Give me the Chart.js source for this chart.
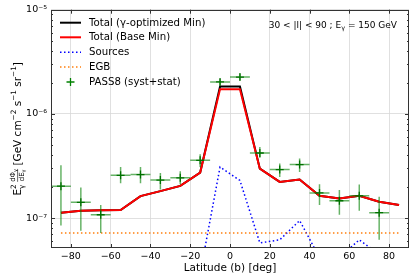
<!DOCTYPE html>
<html>
<head>
<meta charset="utf-8">
<script src="https://cdn.jsdelivr.net/npm/chart.js@4/dist/chart.umd.min.js"></script>
<style>
html,body{margin:0;padding:0;background:#fff;}
#wrap{width:417px;height:278px;}
</style>
</head>
<body>
<div id="wrap"><canvas id="c" width="417" height="278"></canvas></div>
<script>
// ---- data ----
const latBins = [-85,-75,-65,-55,-45,-35,-25,-15,-5,5,15,25,35,45,55,65,75];
const pass8   = [2.03e-7,1.42e-7,1.08e-7,2.58e-7,2.62e-7,2.32e-7,2.44e-7,3.59e-7,2.03e-6,2.26e-6,4.22e-7,2.93e-7,3.27e-7,1.75e-7,1.47e-7,1.64e-7,1.13e-7];
const pass8Hi = [3.22e-7,1.97e-7,1.34e-7,3.10e-7,3.10e-7,2.72e-7,2.82e-7,4.10e-7,2.17e-6,2.42e-6,4.81e-7,3.34e-7,3.73e-7,2.12e-7,1.86e-7,2.11e-7,1.61e-7];
const pass8Lo = [8.5e-8,7.6e-8,7.2e-8,2.17e-7,2.17e-7,1.89e-7,2.12e-7,3.10e-7,1.90e-6,2.12e-6,3.81e-7,2.49e-7,2.78e-7,1.34e-7,1.08e-7,1.18e-7,6.2e-8];
const binHalfWidth = 5;

const modelLat = [-85,-75,-65,-55,-45,-35,-25,-15,-5,5,15,25,35,45,55,65,75,85];
const totalGammaOpt = [1.13e-7,1.18e-7,1.19e-7,1.20e-7,1.63e-7,1.82e-7,2.04e-7,2.74e-7,1.83e-6,1.83e-6,2.99e-7,2.23e-7,2.35e-7,1.64e-7,1.55e-7,1.64e-7,1.44e-7,1.34e-7];
const totalBase     = [1.13e-7,1.18e-7,1.19e-7,1.20e-7,1.63e-7,1.82e-7,2.04e-7,2.74e-7,1.73e-6,1.73e-6,2.99e-7,2.23e-7,2.35e-7,1.64e-7,1.55e-7,1.64e-7,1.44e-7,1.34e-7];
const sources       = [1.0e-8,1.2e-8,1.0e-8,1.1e-8,1.3e-8,1.5e-8,1.8e-8,2.95e-8,3.1e-7,2.3e-7,5.8e-8,6.2e-8,9.5e-8,4.2e-8,4.2e-8,6.2e-8,4.5e-8,1.5e-8];
const egbLat = [-85,85];
const egb    = [7.2e-8,7.2e-8];

const xTicks = [-80,-60,-40,-20,0,20,40,60,80];
const yTicks = [1e-7,1e-6,1e-5];
const yTickLabels = ['10\u207B\u2077','10\u207B\u2076','10\u207B\u2075'];
const xMin = -90, xMax = 90, yMin = 5.18e-8, yMax = 1e-5;

const legendItems = [
  {label:'Total (\u03B3-optimized Min)', kind:'line', color:'#000000'},
  {label:'Total (Base Min)', kind:'line', color:'#ff0000'},
  {label:'Sources', kind:'dot', color:'#0000ff'},
  {label:'EGB', kind:'dot', color:'#ff7f0e'},
  {label:'PASS8 (syst+stat)', kind:'plus', color:'#008000'}
];

const pts = (xs, ys) => xs.map((x,i)=>({x:x, y:ys[i]}));
const FONT = 'DejaVu Sans';

function drawRich(ctx, segs, x, y) {
  let cx = x;
  for (const s of segs) {
    ctx.font = s.size + 'px "' + FONT + '"';
    ctx.fillText(s.t, cx, y + (s.dy||0));
    cx += ctx.measureText(s.t).width;
  }
  return cx - x;
}
function richWidth(ctx, segs) {
  let w = 0;
  for (const s of segs) { ctx.font = s.size + 'px "' + FONT + '"'; w += ctx.measureText(s.t).width; }
  return w;
}

const overlay = {
  id: 'overlay',
  afterDatasetsDraw(chart) {
    const ctx = chart.ctx, xs = chart.scales.x, ys = chart.scales.y, ca = chart.chartArea;
    ctx.save();
    ctx.beginPath(); ctx.rect(ca.left, ca.top, ca.right-ca.left, ca.bottom-ca.top); ctx.clip();
    for (let i=0;i<latBins.length;i++) {
      const px = xs.getPixelForValue(latBins[i]);
      const py = ys.getPixelForValue(pass8[i]);
      ctx.strokeStyle = 'rgba(0,128,0,0.6)'; ctx.lineWidth = 1.5;
      ctx.beginPath();
      ctx.moveTo(xs.getPixelForValue(latBins[i]-binHalfWidth), py);
      ctx.lineTo(xs.getPixelForValue(latBins[i]+binHalfWidth), py);
      ctx.moveTo(px, ys.getPixelForValue(pass8Hi[i]));
      ctx.lineTo(px, ys.getPixelForValue(pass8Lo[i]));
      ctx.stroke();
      ctx.strokeStyle = '#007000'; ctx.lineWidth = 1.3;
      ctx.beginPath();
      ctx.moveTo(px-4, py); ctx.lineTo(px+4, py);
      ctx.moveTo(px, py-4); ctx.lineTo(px, py+4);
      ctx.stroke();
    }
    ctx.restore();
  },
  afterDraw(chart) {
    const ctx = chart.ctx, xs = chart.scales.x, ys = chart.scales.y, ca = chart.chartArea;
    ctx.save();
    ctx.strokeStyle = '#333'; ctx.lineWidth = 1;
    ctx.strokeRect(Math.round(ca.left)+0.5, Math.round(ca.top)+0.5, Math.round(ca.right-ca.left)-1, Math.round(ca.bottom-ca.top)-1);
    ctx.beginPath();
    for (const v of xTicks) {
      const px = Math.round(xs.getPixelForValue(v))+0.5;
      ctx.moveTo(px, ca.bottom); ctx.lineTo(px, ca.bottom-4);
      ctx.moveTo(px, ca.top); ctx.lineTo(px, ca.top+4);
    }
    for (let d=-8; d<=-5; d++) {
      for (let m=1; m<=9; m++) {
        const v = m*Math.pow(10,d);
        if (v < yMin*0.999 || v > yMax*1.001) continue;
        const py = Math.round(ys.getPixelForValue(v))+0.5;
        const len = (m===1)?4:2;
        ctx.moveTo(ca.left, py); ctx.lineTo(ca.left+len, py);
        ctx.moveTo(ca.right, py); ctx.lineTo(ca.right-len, py);
      }
    }
    ctx.stroke();

    ctx.fillStyle = '#000'; ctx.textBaseline = 'middle'; ctx.textAlign = 'left';
    const rowY = [22.7,37.3,52.3,67,82];
    legendItems.forEach((it, i) => {
      const y = rowY[i];
      ctx.strokeStyle = it.color;
      if (it.kind === 'line') {
        ctx.lineWidth = 2; ctx.setLineDash([]);
        ctx.beginPath(); ctx.moveTo(60,y); ctx.lineTo(81,y); ctx.stroke();
      } else if (it.kind === 'dot') {
        ctx.lineWidth = 1.5; ctx.setLineDash([1.5,2.5]);
        ctx.beginPath(); ctx.moveTo(60,y); ctx.lineTo(81,y); ctx.stroke();
        ctx.setLineDash([]);
      } else {
        ctx.lineWidth = 1.3;
        ctx.beginPath(); ctx.moveTo(66.5,y); ctx.lineTo(74.5,y); ctx.moveTo(70.5,y-4); ctx.lineTo(70.5,y+4); ctx.stroke();
      }
      ctx.font = '10.2px "' + FONT + '"';
      ctx.fillText(it.label, 89, y+0.5);
    });

    ctx.textBaseline = 'alphabetic';
    const ann = [{t:'30 < |l| < 90 ; E',size:9},{t:'\u03B3',size:6.5,dy:2},{t:' = 150 GeV',size:9}];
    const aw = richWidth(ctx, ann);
    drawRich(ctx, ann, 397 - aw, 28.3);

    ctx.font = '10.5px "' + FONT + '"'; ctx.textAlign = 'center';
    ctx.fillText('Latitude (b) [deg]', (ca.left+ca.right)/2, 271);

    ctx.textAlign = 'left';
    const pre = [{t:'E',size:10.5},{t:'2',size:7.3,dy:-4.8}];
    const sub = {t:'\u03B3',size:7.3,dy:2.6};
    const post = [{t:' [GeV cm',size:10.5},{t:'\u22122',size:7.3,dy:-4.8},{t:' s',size:10.5},{t:'\u22121',size:7.3,dy:-4.8},{t:' sr',size:10.5},{t:'\u22121',size:7.3,dy:-4.8},{t:']',size:10.5}];
    const num = [{t:'d\u03A6',size:7},{t:'\u03B3',size:5,dy:1.5}];
    const den = [{t:'dE',size:7},{t:'\u03B3',size:5,dy:1.5}];
    const wE = richWidth(ctx,[pre[0]]);
    const w2 = richWidth(ctx,[pre[1]]);
    const wSub = richWidth(ctx,[sub]);
    const wPre = wE + Math.max(w2,wSub);
    const wFrac = Math.max(richWidth(ctx,num), richWidth(ctx,den));
    const gap = 2.5;
    const wPost = richWidth(ctx, post);
    const total = wPre + gap + wFrac + wPost;
    ctx.translate(21, (ca.top+ca.bottom)/2);
    ctx.rotate(-Math.PI/2);
    let x0 = -total/2;
    drawRich(ctx,[pre[0]], x0, 0);
    drawRich(ctx,[pre[1]], x0+wE, 0);
    drawRich(ctx,[sub], x0+wE, 0);
    let fx = x0 + wPre + gap;
    const nw = richWidth(ctx,num), dw = richWidth(ctx,den);
    drawRich(ctx, num, fx + (wFrac-nw)/2, -5.8);
    drawRich(ctx, den, fx + (wFrac-dw)/2, 2.8);
    ctx.lineWidth = 0.6; ctx.strokeStyle = '#000';
    ctx.beginPath(); ctx.moveTo(fx, -3.4); ctx.lineTo(fx+wFrac, -3.4); ctx.stroke();
    drawRich(ctx, post, fx + wFrac, 0);
    ctx.restore();
  }
};

const chart = new Chart(document.getElementById('c'), {
  type: 'scatter',
  data: {
    datasets: [
      {label:'Total (\u03B3-optimized Min)', data: pts(modelLat,totalGammaOpt), showLine:true, borderColor:'#000000', borderWidth:2, pointRadius:0, order:5},
      {label:'Total (Base Min)', data: pts(modelLat,totalBase), showLine:true, borderColor:'#ff0000', borderWidth:2, pointRadius:0, order:4},
      {label:'Sources', data: pts(modelLat,sources), showLine:true, borderColor:'#0000ff', borderWidth:1.5, borderDash:[1.5,2.5], pointRadius:0, order:3},
      {label:'EGB', data: pts(egbLat,egb), showLine:true, borderColor:'#ff7f0e', borderWidth:1.5, borderDash:[1.5,2.5], pointRadius:0, order:2}
    ]
  },
  options: {
    responsive:false, animation:false, devicePixelRatio:1,
    layout:{padding:{left:0,right:8,top:8,bottom:0}},
    plugins:{legend:{display:false}, tooltip:{enabled:false}},
    scales:{
      x:{type:'linear', min:xMin, max:xMax,
        afterBuildTicks(s){ s.ticks = xTicks.map(v=>({value:v})); },
        afterFit(s){ s.height = 30; },
        ticks:{color:'#000', padding:3, font:{family:FONT,size:9.5}, maxRotation:0, autoSkip:false,
          callback:(v)=> (v<0?'\u2212'+Math.abs(v):String(v))},
        grid:{color:'#d8d8d8', lineWidth:0.8, borderDash:[1.5,1.5], drawTicks:false},
        border:{display:false}
      },
      y:{type:'logarithmic', min:yMin, max:yMax,
        afterBuildTicks(s){ s.ticks = yTicks.map(v=>({value:v})); },
        afterFit(s){ s.width = 51; },
        ticks:{color:'#000', padding:4, font:{family:FONT,size:9.5}, autoSkip:false,
          callback:(v)=> { const i = yTicks.findIndex(t=>Math.abs(t-v)/t<1e-6); return i>=0?yTickLabels[i]:''; }},
        grid:{color:'#d8d8d8', lineWidth:0.8, borderDash:[1.5,1.5], drawTicks:false},
        border:{display:false}
      }
    }
  },
  plugins:[overlay]
});
</script>
</body>
</html>
